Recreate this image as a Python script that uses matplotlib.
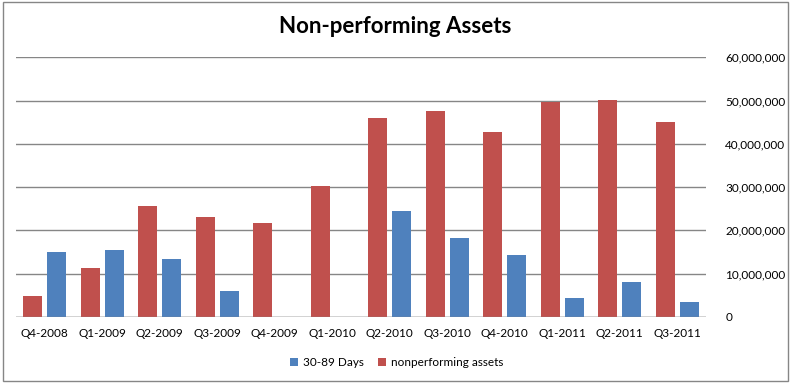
import numpy as np
import matplotlib
matplotlib.use("Agg")
import matplotlib.pyplot as plt
from matplotlib.ticker import FuncFormatter
from matplotlib.patches import Rectangle

plt.rcParams['font.family'] = ['Lato', 'DejaVu Sans']

# data
quarters = ['Q4-2008', 'Q1-2009', 'Q2-2009', 'Q3-2009', 'Q4-2009', 'Q1-2010',
            'Q2-2010', 'Q3-2010', 'Q4-2010', 'Q1-2011', 'Q2-2011', 'Q3-2011']
days_30_89 = [15.0e6, 15.5e6, 13.4e6, 6.0e6, 0, 0,
              24.5e6, 18.2e6, 14.3e6, 4.4e6, 8.1e6, 3.5e6]
nonperforming = [4.85e6, 11.3e6, 25.6e6, 23.1e6, 21.7e6, 30.2e6,
                 45.9e6, 47.5e6, 42.7e6, 49.6e6, 50.1e6, 45.0e6]

red = '#C0504D'
blue = '#4F81BD'

fig = plt.figure(figsize=(7.93, 3.86), dpi=100)
ax = fig.add_axes([0.0202, 0.1788, 0.8700, 0.6728])

x = np.arange(len(quarters))
w = 0.33
ax.bar(x - 0.21, nonperforming, w, color=red, label='nonperforming assets', zorder=3)
ax.bar(x + 0.21, days_30_89, w, color=blue, label='30-89 Days', zorder=3)

ax.set_xlim(-0.5, len(quarters) - 0.5)
ax.set_ylim(0, 60e6)
ax.set_yticks(np.arange(0, 60e6 + 1, 10e6))
ax.yaxis.set_major_formatter(FuncFormatter(lambda v, p: f'{int(v):,}'))
ax.yaxis.tick_right()
ax.yaxis.grid(True, color='#868686', linewidth=1.0, zorder=0)
ax.set_xticks(x)
ax.set_xticklabels(quarters)
ax.tick_params(axis='both', length=0, labelsize=8.5, colors='black')
ax.tick_params(axis='x', pad=8)
ax.tick_params(axis='y', pad=14)
for lbl in ax.get_yticklabels():
    lbl.set_horizontalalignment('left')
for s in ax.spines.values():
    s.set_visible(False)
ax.axhline(0, color='#868686', linewidth=1.0, zorder=4)

fig.suptitle('Non-performing Assets', x=0.498, y=0.958, fontsize=16, fontweight='bold')

handles, labels = ax.get_legend_handles_labels()
fig.legend(handles[::-1], labels[::-1], loc='center', bbox_to_anchor=(0.5, 0.06),
           ncol=2, frameon=False, fontsize=8.5, handlelength=0.7, handleheight=0.7,
           handletextpad=0.4, columnspacing=1.2)

# chart area border
fig.patches.append(Rectangle((0.004, 0.012), 0.99, 0.982, transform=fig.transFigure,
                             fill=False, edgecolor='#868686', linewidth=1.0))

fig.savefig('out.png', dpi=100)
